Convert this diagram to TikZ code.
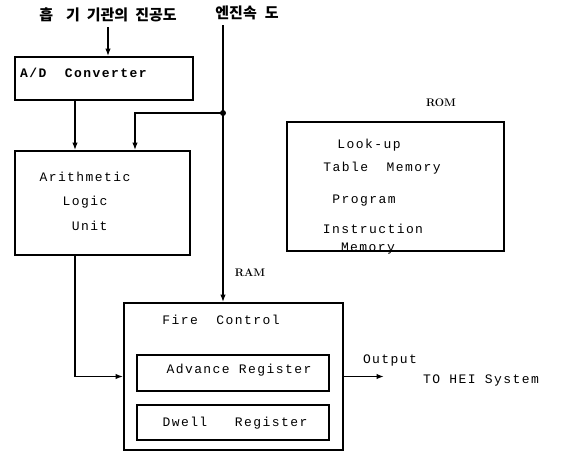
\documentclass[tikz,border=0pt]{standalone}
\usepackage{fontspec}
\setmonofont{Liberation Mono}[LetterSpace=11]
\newfontfamily\kor{Noto Sans CJK KR}
\usetikzlibrary{arrows.meta}

\begin{document}
\begin{tikzpicture}[x=1pt, y=-1pt,
		box/.style={draw, rectangle, line width=1.8pt, inner sep=0pt},
		txt/.style={font=\fontsize{13}{24.5}\selectfont\ttfamily, inner sep=0pt, align=center},
		tag/.style={font=\fontsize{11}{13}\selectfont\rmfamily\bfseries, inner sep=0pt},
		hangul/.style={font=\fontsize{15}{18}\selectfont\kor\bfseries, inner sep=5pt},
		arrow/.style={-{Latex[length=7.5pt,width=5.5pt]}, line width=1.8pt},
		wire/.style={line width=1.8pt},
	]
	\useasboundingbox (0,0) rectangle (563,451);

	% inputs
	\node[hangul] (vac) at (108, 15) {흡\hspace{13pt}기\hspace{7pt}기관의\hspace{7pt}진공도};
	\node[hangul] (rpm) at (247, 13) {엔진속\hspace{8pt}도};

	% blocks
	\node[box, minimum width=178pt, minimum height=43pt]  (adc)   at (104, 78.5)  {};
	\node[box, minimum width=175pt, minimum height=104pt] (alu)   at (102.5, 203) {};
	\node[box, minimum width=217pt, minimum height=129pt] (rom)   at (395.5, 186.5) {};
	\node[box, minimum width=219pt, minimum height=147pt] (fire)  at (233.5, 376.5) {};
	\node[box, minimum width=192pt, minimum height=36pt]  (adv)   at (233, 373)   {};
	\node[box, minimum width=192pt, minimum height=35pt]  (dwell) at (233, 422.5) {};

	% block texts
	\node[txt, anchor=west, font=\fontsize{13}{18}\selectfont\ttfamily\bfseries] (adctxt) at (20, 73) {A/D~~Converter};
	\node[txt] (alutxt) at (85, 201) {Arithmetic\\Logic\\~Unit};
	\node[txt] (romA) at (369, 145) {Look-up};
	\node[txt] (romB) at (382, 168) {Table~~Memory};
	\node[txt] (romC) at (364, 201) {Program};
	\node[txt] (romD) at (373, 229) {Instruction};
	\node[txt] (romE) at (368, 249) {Memory};
	\node[txt] (firetxt)  at (221, 320) {Fire~~Control};
	\node[txt] (advtxt)   at (239, 370) {Advance Register};
	\node[txt] (dwelltxt) at (235, 423) {Dwell~~~Register};
	\node[txt] (outtxt)   at (390, 360) {Output};
	\node[txt] (hei)      at (481, 380) {TO HEI System};
	\node[tag] (romtag) at (441, 103) {ROM};
	\node[tag] (ramtag) at (250, 273) {RAM};

	\coordinate (tap)    at (223, 113);
	\coordinate (outend) at (384, 376.5);

	% connections
	\draw[arrow] (vac.south) -- (vac.south |- adc.north);
	\draw[wire]  (tap |- rpm.south) -- (tap);
	\fill (tap) circle (3pt);
	\draw[arrow] (tap) -| ([xshift=32.5pt]alu.north);
	\draw[arrow] ([xshift=-29pt]adc.south) -- ([xshift=-29pt]adc.south |- alu.north);
	\draw[arrow] (tap) -- (tap |- fire.north);
	\draw[arrow] ([xshift=-27.5pt]alu.south) |- (fire.west);
	\draw[arrow] (fire.east) -- (outend);
\end{tikzpicture}
\end{document}
